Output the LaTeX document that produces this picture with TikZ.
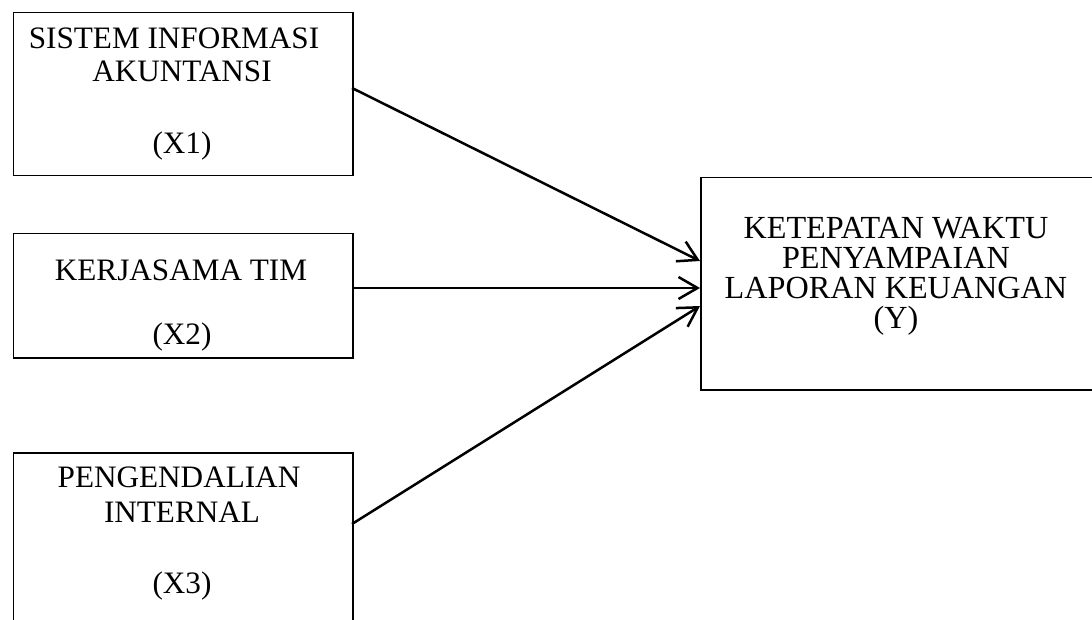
\documentclass[tikz,border=0pt]{standalone}
\usepackage{fontspec}
\setmainfont{Liberation Serif}
\usetikzlibrary{arrows.meta}
\begin{document}
\begin{tikzpicture}[x=1pt,y=-1pt,
  box/.style={draw=black,line width=1.5pt,inner sep=0pt,anchor=north west},
  txt/.style={anchor=base,inner sep=0pt,font=\fontsize{31.2}{33}\selectfont},
  ytxt/.style={anchor=north,inner sep=0pt,align=center,font=\fontsize{32.2}{30}\selectfont},
  conn/.style={line width=2.5pt,-{Straight Barb[length=19pt,width=22pt,line width=2.5pt]}}]
\useasboundingbox (0,0) rectangle (1092,620);
\clip (0,0) rectangle (1092,620);
% boxes
\node[box,minimum width=339.5pt,minimum height=163pt] (x1) at (12.5,12) {};
\node[box,minimum width=339.5pt,minimum height=124pt] (x2) at (12.5,233) {};
\node[box,minimum width=339.5pt,minimum height=200pt] (x3) at (12.5,452) {};
\node[box,minimum width=396pt,minimum height=212pt] (y) at (700,177) {};
% texts
\node[txt] (x1a) at (174,49) {SISTEM INFORMASI};
\node[txt] (x1b) at (182,82) {AKUNTANSI};
\node[txt] (x1c) at (182,154) {(X1)};
\node[txt] (x2a) at (181,280) {KERJASAMA TIM};
\node[txt] (x2c) at (182,344) {(X2)};
\node[txt] (x3a) at (179,487) {PENGENDALIAN};
\node[txt] (x3b) at (182,522) {INTERNAL};
\node[txt] (x3c) at (182,593) {(X3)};
\node[ytxt] (yt) at (896,216.7) {KETEPATAN WAKTU\\PENYAMPAIAN\\LAPORAN KEUANGAN\\(Y)};
% connectors
\coordinate (s1) at (352,88);
\coordinate (s2) at (352,288);
\coordinate (s3) at (352,524);
\coordinate (t1) at (700,261);
\coordinate (t2) at (700,288);
\coordinate (t3) at (700,306);
\draw[conn] (s1) -- (t1);
\draw[conn] (s2) -- (t2);
\draw[conn] (s3) -- (t3);
\end{tikzpicture}
\end{document}
